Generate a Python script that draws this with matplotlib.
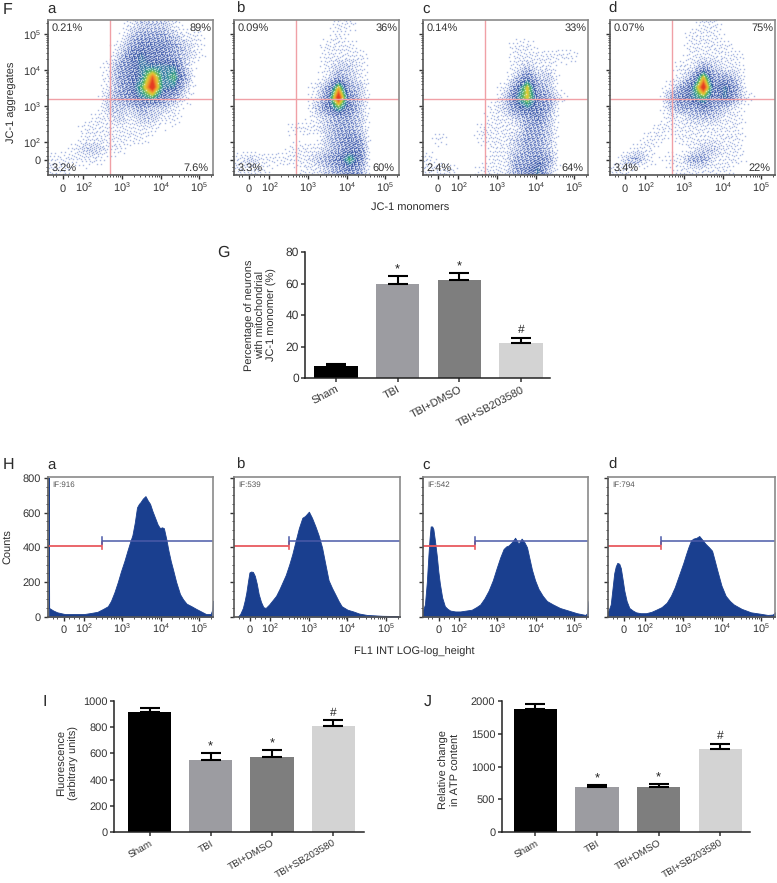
import numpy as np
import matplotlib
matplotlib.use("Agg")
import matplotlib.pyplot as plt
from matplotlib.colors import LinearSegmentedColormap

plt.rcParams.update({
    "font.family": ["Liberation Sans", "DejaVu Sans"],
    "mathtext.fontset": "custom", "mathtext.rm": "Liberation Sans",
    "mathtext.default": "regular", "text.color": "#2b2b2b",
    "xtick.color": "#333333", "ytick.color": "#333333",
    "text.hinting": "no_hinting", "text.hinting_factor": 1,
})

W, H = 777, 883

# ---------- data ----------
scatter_panels = ["a", "b", "c", "d"]
pct_a = ["0.21%", "89%", "3.2%", "7.6%"]
pct_b = ["0.09%", "36%", "3.3%", "60%"]
pct_c = ["0.14%", "33%", "2.4%", "64%"]
pct_d = ["0.07%", "75%", "3.4%", "22%"]

# estimated event density on a coarse 15x15 grid (top row first, 0 = empty, 9 = peak)
density_a = [
    [0,0,0,0,0,0,0,1,2,2,2,1,0,0,0],
    [0,0,0,0,0,0,0,2,3,3,3,2,1,1,0],
    [0,0,0,0,0,0,1,3,4,4,4,3,2,1,0],
    [0,0,0,0,0,0,2,4,5,4,4,3,2,1,0],
    [0,0,0,0,0,1,3,4,5,5,5,5,2,0,0],
    [0,0,0,0,0,1,3,4,5,8,5,6,3,0,0],
    [0,0,0,0,0,1,3,4,6,9,5,5,2,0,0],
    [0,0,0,0,0,2,3,4,5,6,4,3,1,0,0],
    [0,0,0,0,0,2,2,2,3,2,2,1,0,0,0],
    [0,0,0,0,1,1,2,1,2,2,1,1,0,0,0],
    [0,0,0,1,1,1,1,1,1,1,0,0,0,0,0],
    [0,0,0,1,1,1,1,1,1,0,0,0,0,0,0],
    [0,0,1,2,2,1,1,0,0,0,0,0,0,0,0],
    [1,1,1,1,1,0,0,0,0,0,0,0,0,0,0],
    [1,1,0,0,0,0,0,0,0,0,0,0,0,0,0],
]
density_b = [
    [0,0,0,0,0,0,0,0,0,1,1,0,0,0,0],
    [0,0,0,0,0,0,0,0,0,1,0,0,0,0,0],
    [0,0,0,0,0,0,0,0,1,1,1,0,0,0,0],
    [0,0,0,0,0,0,0,0,1,1,1,1,0,0,0],
    [0,0,0,0,0,0,0,0,1,2,2,1,0,0,0],
    [0,0,0,0,0,0,0,0,1,3,2,1,0,0,0],
    [0,0,0,0,0,0,0,1,3,7,3,2,0,0,0],
    [0,0,0,0,0,0,0,1,4,9,4,2,0,0,0],
    [0,0,0,0,0,0,0,2,4,6,4,2,0,0,0],
    [0,0,0,0,0,0,0,1,2,3,3,2,0,0,0],
    [0,0,0,0,0,1,1,1,2,3,3,2,0,0,0],
    [0,0,0,0,0,0,0,0,2,3,4,3,0,0,0],
    [0,0,0,0,0,1,1,1,2,3,4,4,0,0,0],
    [1,2,1,1,1,1,1,2,3,4,6,4,0,0,0],
    [1,1,1,0,0,0,1,1,2,3,4,3,0,0,0],
]
density_c = [
    [0,0,0,0,0,0,0,0,0,0,0,0,0,0,0],
    [0,0,0,0,0,0,0,0,0,0,0,0,0,0,0],
    [0,0,0,0,0,0,0,0,1,1,0,0,0,0,0],
    [0,0,0,0,0,0,0,0,1,1,1,1,1,1,0],
    [0,0,0,0,0,0,0,0,1,2,1,1,0,0,0],
    [0,0,0,0,0,0,0,0,2,4,2,2,0,0,0],
    [0,0,0,0,0,0,0,1,4,7,3,2,0,0,0],
    [0,0,0,0,0,0,0,2,5,7,4,3,1,0,0],
    [0,0,0,0,0,0,1,2,4,5,4,3,0,0,0],
    [0,0,0,0,0,0,1,1,2,3,4,2,0,0,0],
    [0,0,0,0,0,1,1,1,1,3,3,2,0,0,0],
    [0,1,0,0,0,1,1,1,2,3,3,2,0,0,0],
    [0,0,0,0,0,0,1,1,2,3,3,2,0,0,0],
    [1,0,0,0,0,0,1,1,3,3,4,3,0,0,0],
    [1,1,1,0,0,1,1,1,3,4,5,2,0,0,0],
]
density_d = [
    [0,0,0,0,0,0,0,0,1,1,0,0,0,0,0],
    [0,0,0,0,0,0,0,1,1,1,0,0,0,0,0],
    [0,0,0,0,0,0,0,1,1,1,1,0,0,0,0],
    [0,0,0,0,0,0,0,1,1,1,1,1,0,0,0],
    [0,0,0,0,0,0,1,1,3,2,1,1,0,0,0],
    [0,0,0,0,0,0,1,3,7,3,3,2,0,0,0],
    [0,0,0,0,0,1,3,5,9,4,5,3,0,0,0],
    [0,0,0,0,0,3,4,5,6,4,5,3,1,0,0],
    [0,0,0,0,0,2,3,3,4,3,2,1,0,0,0],
    [0,0,0,0,0,1,1,2,2,2,1,1,0,0,0],
    [0,0,0,0,1,1,1,1,1,1,1,1,0,0,0],
    [0,0,0,1,1,0,1,1,1,1,1,1,0,0,0],
    [0,0,1,1,0,0,0,1,2,2,1,1,0,0,0],
    [0,2,3,1,0,1,1,3,3,1,1,1,0,0,0],
    [1,1,0,0,0,0,1,1,1,1,1,0,0,0,0],
]

# histogram curves: x in display decades (3 = 10^3), y in counts
hist_a_x = [1.08,1.09,1.2,1.3,1.5,1.8,2.0,2.2,2.35,2.5,2.62,2.7,2.79,2.88,2.96,3.05,3.13,3.2,3.26,3.32,3.38,3.43,3.47,3.53,3.6,3.66,3.72,3.78,3.85,3.92,3.98,4.03,4.08,4.14,4.2,4.26,4.32,4.4,4.5,4.58,4.67,4.8,4.92,5.05,5.18,5.3,5.34,5.36]
hist_a_y = [800,50,35,25,15,15,15,22,28,45,60,90,140,200,260,320,380,430,470,540,630,650,660,680,695,670,650,610,570,530,510,515,510,450,380,320,270,200,130,100,75,60,45,30,15,15,40,90]
hist_b_x = [1.16,1.22,1.29,1.34,1.38,1.42,1.46,1.5,1.55,1.6,1.65,1.7,1.76,1.82,1.88,1.97,2.06,2.15,2.24,2.32,2.4,2.49,2.57,2.66,2.74,2.83,2.9,3.0,3.08,3.17,3.25,3.34,3.42,3.51,3.6,3.68,3.77,3.85,4.0,4.15,4.3,4.5,4.9,5.36]
hist_b_y = [0,15,50,95,140,200,255,260,258,235,190,130,85,55,50,70,95,120,160,200,240,300,360,440,510,570,580,605,570,520,470,400,310,210,165,130,90,60,40,30,18,10,5,3]
hist_c_x = [1.05,1.11,1.16,1.2,1.23,1.26,1.3,1.33,1.37,1.42,1.46,1.5,1.56,1.63,1.7,1.77,1.9,2.03,2.18,2.33,2.45,2.55,2.66,2.77,2.88,2.98,3.07,3.16,3.23,3.29,3.38,3.46,3.55,3.63,3.7,3.77,3.84,3.9,3.98,4.07,4.18,4.29,4.45,4.63,4.85,5.07,5.29,5.34,5.37]
hist_c_y = [30,70,200,350,450,520,520,505,440,350,260,190,110,60,45,35,30,30,35,40,55,70,105,150,210,280,340,390,405,410,430,455,420,450,430,400,330,270,210,160,120,90,70,50,35,20,10,20,90]
hist_d_x = [1.04,1.13,1.18,1.22,1.26,1.3,1.35,1.39,1.44,1.48,1.54,1.61,1.7,1.78,1.9,2.04,2.18,2.3,2.44,2.57,2.68,2.78,2.89,3.0,3.07,3.13,3.2,3.26,3.34,3.41,3.5,3.57,3.66,3.74,3.8,3.87,3.98,4.09,4.2,4.3,4.5,4.74,4.95,5.17,5.3,5.39]
hist_d_y = [15,70,170,250,290,310,305,280,210,150,90,50,35,25,20,20,28,40,55,80,120,170,240,310,360,400,440,450,455,465,440,420,400,380,330,270,180,120,90,70,45,25,18,10,12,30]
if_labels = ["IF:916", "IF:539", "IF:542", "IF:794"]
gates = [2.47, 2.49, 2.42, 2.43]

groups = ["Sham", "TBI", "TBI+DMSO", "TBI+SB203580"]
marks = ["", "*", "*", "#"]
g_mean = [7.8, 60, 62.5, 22]
g_top = [9.1, 65, 66.5, 25.7]
i_mean = [914, 549, 570, 805]
i_top = [942, 605, 625, 851]
j_mean = [1868, 689, 694, 1271]
j_top = [1954, 724, 734, 1347]
bar_colors = ["#000000", "#9c9ca1", "#7e7e7e", "#d3d3d3"]

# ---------- helpers ----------
fig = plt.figure(figsize=(W / 100, H / 100), dpi=100, facecolor="white")

def axpx(l, t, r, b):
    return fig.add_axes([l / W, 1 - b / H, (r - l) / W, (b - t) / H])

def txt(x, y, s, **kw):
    kw.setdefault("ha", "center")
    kw.setdefault("va", "center")
    fig.text(x / W, 1 - y / H, s, **kw)

dens_cmap = LinearSegmentedColormap.from_list("dens", [
    (0.0, "#5f7ac8"), (1 / 9, "#5f7ac8"), (3 / 9, "#2f4eab"), (4.6 / 9, "#1c3d99"),
    (5.3 / 9, "#1f7f96"), (6 / 9, "#3fab62"), (6.8 / 9, "#dcd23a"),
    (7.6 / 9, "#f0932c"), (8.4 / 9, "#e53b22"), (1.0, "#e53b22")])

def stipple(grid, w, h):
    """Show a density grid as dots: higher estimated density, more and hotter pixels."""
    g = np.array(grid, float)
    rows, cols = g.shape
    xs = (np.arange(w) + .5) / w * cols - .5
    ys = (np.arange(h) + .5) / h * rows - .5
    tmp = np.array([np.interp(xs, np.arange(cols), r) for r in g])
    d = np.array([np.interp(ys, np.arange(rows), c) for c in tmp.T]).T
    cov = np.interp(d, [0, 1, 2, 3, 4, 5, 6, 7, 9], [0, .12, .28, .42, .52, .62, .8, 1, 1])
    err = cov.copy()
    on = np.zeros_like(err, dtype=bool)
    for y in range(h):
        order = range(w) if y % 2 == 0 else range(w - 1, -1, -1)
        s = 1 if y % 2 == 0 else -1
        for x in order:
            v = err[y, x]
            thr = 0.5 + 0.7 * (((x * 0.7548777 + y * 0.5698403) % 1) - 0.5)
            if v >= thr:
                on[y, x] = True
                v -= 1
            if 0 <= x + s < w:
                err[y, x + s] += v * 7 / 16
            if y + 1 < h:
                err[y + 1, x] += v * 5 / 16
                if 0 <= x - s < w:
                    err[y + 1, x - s] += v * 3 / 16
                if 0 <= x + s < w:
                    err[y + 1, x + s] += v * 1 / 16
    rgb = dens_cmap(d / 9)[..., :3]
    rgb[~on] = 1
    k = np.array([.14, .72, .14])
    for ax_i in (0, 1):
        rgb = np.apply_along_axis(lambda m: np.convolve(np.pad(m, 1, mode="edge"), k, mode="valid"), ax_i, rgb)
    return rgb

X_MAJOR = [1.47, 2, 3, 4, 5]
X_LABELS = ["0", "10$^{2}$", "10$^{3}$", "10$^{4}$", "10$^{5}$"]
minor = [d + np.log10(k) for d in (2, 3, 4, 5) for k in range(2, 10)] + [1.2, 1.3, 1.6, 1.75, 1.87]

def frame(ax, xlim, xpad):
    ax.set_xlim(*xlim)
    ax.set_xticks(X_MAJOR, X_LABELS, fontsize=7.6)
    for t in ax.get_xticklabels():
        t.set_va("baseline")
    ax.set_xticks([m for m in minor if xlim[0] < m < xlim[1]], minor=True)
    ax.tick_params(axis="x", which="major", length=3, width=1, pad=xpad)
    ax.tick_params(axis="x", which="minor", length=1.5, width=.6)
    ax.tick_params(axis="y", which="major", length=3, width=1, pad=2)
    ax.tick_params(axis="y", which="minor", length=1.5, width=.6)
    for s in ("left", "bottom"):
        ax.spines[s].set_color("#555555")
        ax.spines[s].set_linewidth(1.2)
    for s in ("top", "right"):
        ax.spines[s].set_color("#8a8a8a")
        ax.spines[s].set_linewidth(1.2)

# ---------- F: density plots ----------
top_px = [(48, 213), (234, 399), (423, 588), (610, 775)]
letters_x = [52, 240, 426, 613]
dens = [density_a, density_b, density_c, density_d]
pcts = [pct_a, pct_b, pct_c, pct_d]
XL, YL = (1.08, 5.36), (1.08, 5.39)
for i, (l, r) in enumerate(top_px):
    ax = axpx(l, 20, r, 175)
    ax.imshow(stipple(dens[i], r - l, 155), aspect="auto",
              extent=[XL[0], XL[1], YL[0], YL[1]], interpolation="nearest", origin="upper")
    frame(ax, XL, 9)
    ax.set_ylim(*YL)
    ax.set_yticks([1.5, 2, 3, 4, 5], ["0", "10$^{2}$", "10$^{3}$", "10$^{4}$", "10$^{5}$"] if i == 0 else [""] * 5, fontsize=7.6)
    ax.set_yticks([m for m in minor if YL[0] < m < YL[1]], minor=True)
    ax.axvline(2.69, color="#f0a0a6", lw=1.0)
    ax.axhline(3.18, color="#f0a0a6", lw=1.0)
    p = pcts[i]
    kw = dict(fontsize=7.8, color="#333333", transform=ax.transAxes, va="center")
    ax.text(0.02, 0.95, p[0], ha="left", **kw)
    ax.text(0.99, 0.95, p[1], ha="right", **kw)
    ax.text(0.02, 0.045, p[2], ha="left", **kw)
    ax.text(0.97, 0.045, p[3], ha="right", **kw)
    txt(letters_x[i], 9, scatter_panels[i], fontsize=11)
txt(8, 9.5, "F", fontsize=11.5)
txt(11, 102, "JC-1 aggregates", rotation=90, fontsize=7.8)
txt(410, 207, "JC-1 monomers", fontsize=7.6)

# ---------- bars ----------
def bars(ax_rect, xlim, ylim, yticks, mean, top, ylabel, ylab_x, ylab_y, rot, tick_fs, xfs, ylab_fs, ls):
    ax = axpx(*ax_rect)
    x = np.arange(len(groups))
    ax.bar(x, mean, width=0.705, color=bar_colors, linewidth=0)
    ax.errorbar(x, mean, yerr=[np.zeros(4), np.array(top) - np.array(mean)], fmt="none",
                ecolor="black", elinewidth=1.5, capsize=7, capthick=1.5)
    for xi, t, m in zip(x, top, marks):
        if m:
            ax.annotate(m, (xi, t), xytext=(0, 0 if m == "*" else 1.5), textcoords="offset points",
                        ha="center", va="bottom", fontsize=9.5 if m == "*" else 8.5, color="#222222")
    ax.set_xlim(*xlim)
    ax.set_ylim(*ylim)
    ax.set_yticks(yticks)
    ax.set_xticks(x)
    ax.set_xticklabels(groups, rotation=rot, ha="right", rotation_mode="anchor", fontsize=xfs, color="#333333")
    ax.tick_params(axis="y", labelsize=tick_fs, length=3, width=1.1, pad=1.5)
    ax.tick_params(axis="x", length=3, width=1.1, pad=1.5)
    for s in ("top", "right"):
        ax.spines[s].set_visible(False)
    for s in ("left", "bottom"):
        ax.spines[s].set_linewidth(1.1)
        ax.spines[s].set_color("#222222")
    txt(ylab_x, ylab_y, ylabel, rotation=90, fontsize=ylab_fs, linespacing=ls, multialignment="center")

bars((305, 252, 550, 378), (-0.5, 3.47), (0, 80), [0, 20, 40, 60, 80], g_mean, g_top,
     "Percentage of neurons\nwith mitochondrial\nJC-1 monomer (%)", 261, 315, 28, 8.5, 8.0, 8.1, 1.05)
txt(223, 253, "G", fontsize=11.5)
bars((114, 700.7, 364, 832.3), (-0.58, 3.5), (0, 1000), [0, 200, 400, 600, 800, 1000], i_mean, i_top,
     "Fluorescence\n(arbitrary units)", 68, 763, 30, 8.0, 7.3, 7.7, 1.3)
txt(45, 702, "I", fontsize=11.5)
bars((501.5, 700.7, 750, 832.3), (-0.55, 3.48), (0, 2000), [0, 500, 1000, 1500, 2000], j_mean, j_top,
     "Relative change\nin ATP content", 450, 770, 30, 8.0, 7.3, 7.7, 1.3)
txt(428, 702, "J", fontsize=11.5)

# ---------- H: histograms ----------
bottom_px = [(48, 213), (234, 400), (423, 588), (608, 775)]
hx = [hist_a_x, hist_b_x, hist_c_x, hist_d_x]
hy = [hist_a_y, hist_b_y, hist_c_y, hist_d_y]
BLUE = "#1a3f8f"
for i, (l, r) in enumerate(bottom_px):
    ax = axpx(l, 477, r, 617)
    ax.fill_between(hx[i], hy[i], 0, color=BLUE, linewidth=0.6)
    frame(ax, (1.06, 5.36), 8.5)
    ax.set_ylim(-2, 805)
    ax.set_yticks([0, 200, 400, 600, 800], ["0", "200", "400", "600", "800"] if i == 0 else [""] * 5, fontsize=7.8)
    ax.set_yticks(np.arange(0, 801, 50), minor=True)
    g = gates[i]
    ax.plot([1.06, g], [410, 410], color="#e8595f", lw=1.3, solid_capstyle="butt")
    ax.plot([g, g], [390, 430], color="#e8595f", lw=1.2)
    ax.plot([g, 5.36], [438, 438], color="#4a5aa8", lw=1.1, solid_capstyle="butt", zorder=1.5)
    ax.plot([g, g], [420, 458], color="#4a5aa8", lw=1.1)
    ax.text(0.025, 0.945, if_labels[i], transform=ax.transAxes, fontsize=5.8, color="#555555", va="center", ha="left")
    txt(letters_x[i], 465, scatter_panels[i], fontsize=11)
txt(8, 465, "H", fontsize=11.5)
txt(7, 547, "Counts", rotation=90, fontsize=7.8)
txt(414, 652, "FL1 INT LOG-log_height", fontsize=7.6)

fig.savefig("out.png", dpi=100)
